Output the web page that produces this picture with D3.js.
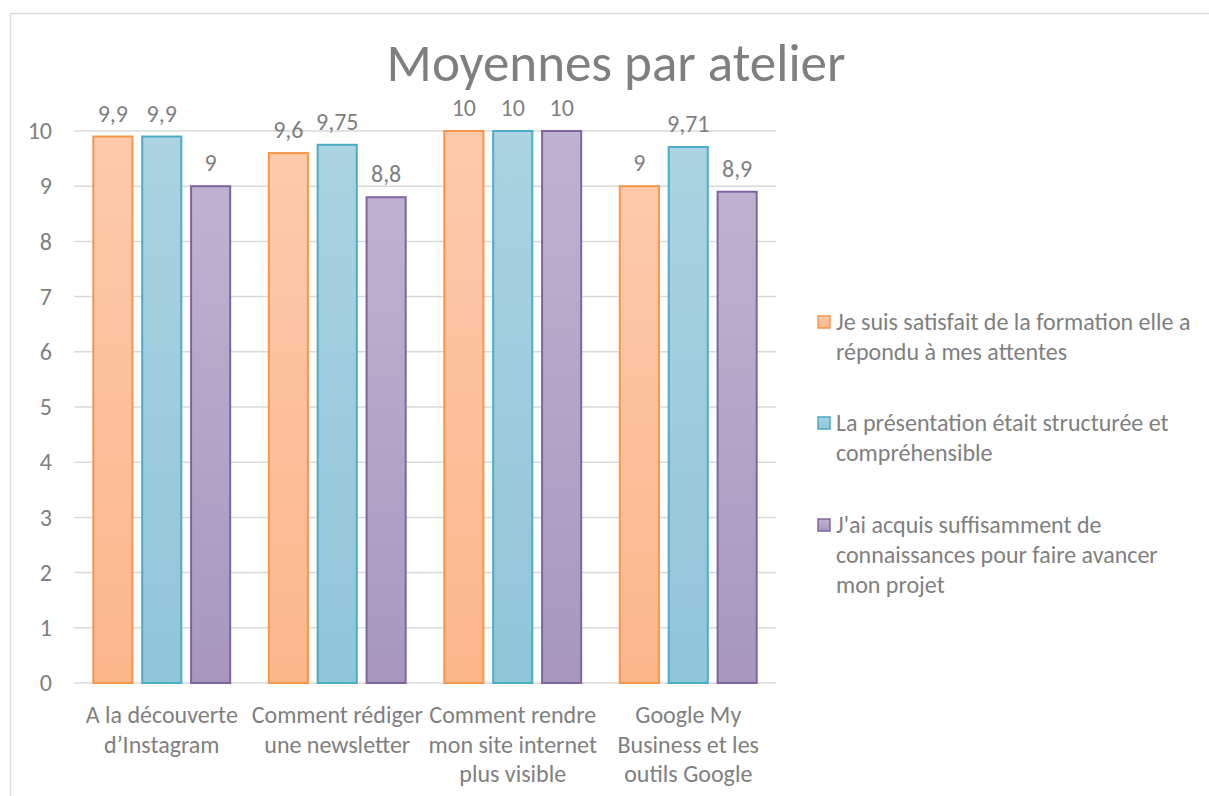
<!doctype html>
<html>
<head>
<meta charset="utf-8"/>
<title>Moyennes par atelier</title>
<script src="https://d3js.org/d3.v7.min.js"></script>
<style>
body { margin: 0; background: white; }
text { font-family: Carlito, Calibri, Lato, sans-serif; fill: #7f7f7f; }
</style>
</head>
<body>
<svg id="chart"></svg>
<script>
// data
const ateliers = ["A la découverte\nd’Instagram", "Comment rédiger\nune newsletter",
    "Comment rendre\nmon site internet\nplus visible", "Google My\nBusiness et les\noutils Google"]
const series = ["Je suis satisfait de la formation elle a\nrépondu à mes attentes",
    "La présentation était structurée et\ncompréhensible",
    "J'ai acquis suffisamment de\nconnaissances pour faire avancer\nmon projet"]
const satisfait = [9.9, 9.6, 10, 9]
const presentation = [9.9, 9.75, 10, 9.71]
const acquis = [9, 8.8, 10, 8.9]
const yTicks = [0, 1, 2, 3, 4, 5, 6, 7, 8, 9, 10]

const values = [satisfait, presentation, acquis]
const colors = [
    {top: '#fccaab', bottom: '#fbb68b', line: '#f79646'},
    {top: '#abd3e1', bottom: '#8fc5d8', line: '#4bacc6'},
    {top: '#bdb3d0', bottom: '#a797bf', line: '#8064a2'}
]

const width = 1209
const height = 796
const m = {left: 74, right: 776, top: 131, bottom: 683}
const fontSize = '24px'

const svg = d3.select('#chart')
    .attr('width', width)
    .attr('height', height)

// frame of the chart
svg.append('rect')
    .attr('x', 10.5).attr('y', 13.5)
    .attr('width', width).attr('height', height)
    .style('fill', 'none')
    .style('stroke', '#d9d9d9')
    .style('stroke-width', 1.5)

const defs = svg.append('defs')
colors.forEach((c, i) => {
    const g = defs.append('linearGradient')
        .attr('id', 'grad' + i)
        .attr('x1', 0).attr('y1', 0).attr('x2', 0).attr('y2', 1)
    g.append('stop').attr('offset', '0%').attr('stop-color', c.top)
    g.append('stop').attr('offset', '100%').attr('stop-color', c.bottom)
})

const x = d3.scaleBand()
    .domain(d3.range(ateliers.length))
    .range([m.left, m.right])
    .paddingInner(0.22)
    .paddingOuter(0.11)

const xs = d3.scaleBand()
    .domain(d3.range(series.length))
    .range([0, x.bandwidth()])
    .paddingInner(0.2)

const y = d3.scaleLinear().domain([0, 10]).range([m.bottom, m.top])

// gridlines
svg.append('g')
    .selectAll('line')
    .data(yTicks)
    .join('line')
    .attr('x1', m.left).attr('x2', m.right)
    .attr('y1', d => y(d)).attr('y2', d => y(d))
    .style('stroke', '#d9d9d9')
    .style('stroke-width', 1.5)

// y axis labels
const yAxis = svg.append('g')
    .attr('transform', `translate(${m.left - 22},0)`)
    .call(d3.axisLeft(y).tickValues(yTicks).tickSize(0).tickPadding(0))
yAxis.select('.domain').remove()
yAxis.selectAll('text')
    .style('font-size', fontSize)
    .style('fill', '#7f7f7f')
    .style('font-family', 'Carlito, Calibri, Lato, sans-serif')

const fmt = v => String(v).replace('.', ',')

// bars
values.forEach((vals, s) => {
    const g = svg.append('g')
    g.selectAll('rect')
        .data(vals)
        .join('rect')
        .attr('x', (d, i) => x(i) + xs(s))
        .attr('y', d => y(d))
        .attr('width', xs.bandwidth())
        .attr('height', d => y(0) - y(d))
        .style('fill', `url(#grad${s})`)
        .style('stroke', colors[s].line)
        .style('stroke-width', 2)

    g.selectAll('text')
        .data(vals)
        .join('text')
        .attr('x', (d, i) => x(i) + xs(s) + xs.bandwidth() / 2)
        .attr('y', d => y(d) - 15)
        .attr('text-anchor', 'middle')
        .style('font-size', fontSize)
        .text(d => fmt(d))
})

// category labels
const cat = svg.append('g')
    .selectAll('text')
    .data(ateliers)
    .join('text')
    .attr('text-anchor', 'middle')
    .attr('x', (d, i) => x(i) + x.bandwidth() / 2)
    .attr('y', 723)
    .style('font-size', fontSize)
cat.selectAll('tspan')
    .data(d => d.split('\n'))
    .join('tspan')
    .attr('x', function() { return this.parentNode.getAttribute('x') })
    .attr('dy', (d, i) => i === 0 ? 0 : 29.5)
    .text(d => d)

// title
svg.append('text')
    .attr('x', 616)
    .attr('y', 81)
    .attr('text-anchor', 'middle')
    .style('font-size', '53px')
    .text('Moyennes par atelier')

// legend
const legendY = [322, 423, 525]
series.forEach((name, s) => {
    svg.append('rect')
        .attr('x', 818).attr('y', legendY[s] - 6)
        .attr('width', 12).attr('height', 12)
        .style('fill', `url(#grad${s})`)
        .style('stroke', colors[s].line)
        .style('stroke-width', 1.5)
    const t = svg.append('text')
        .attr('x', 836)
        .attr('y', legendY[s] + 8)
        .style('font-size', fontSize)
    t.selectAll('tspan')
        .data(name.split('\n'))
        .join('tspan')
        .attr('x', 836)
        .attr('dy', (d, i) => i === 0 ? 0 : 30)
        .text(d => d)
})
</script>
</body>
</html>
